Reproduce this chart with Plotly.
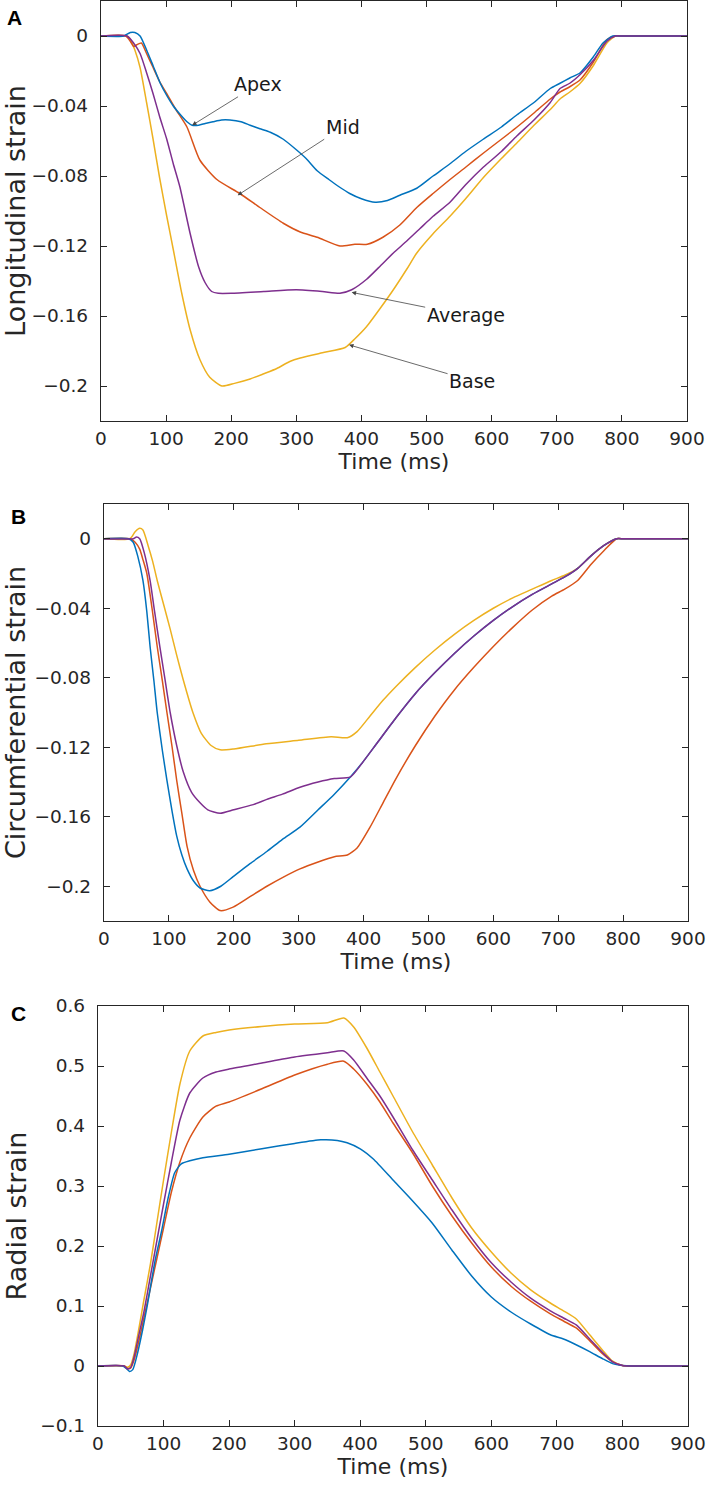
import plotly.graph_objects as go

# ---------------- data ----------------
# Panel A: longitudinal strain
a_apex_t = [0, 35, 45, 52, 60, 70, 80, 91, 101, 111, 122, 132, 140, 150, 160, 172, 185, 198, 215, 229, 244, 260, 280, 300, 315, 332, 350, 365, 382, 400, 421, 440, 459, 485, 510, 536, 560, 587, 615, 639, 665, 690, 705, 720, 736, 756, 771, 786, 800, 820, 900]
a_apex_v = [0, 0, 0.002, 0.002, 0, -0.008, -0.017, -0.027, -0.034, -0.040, -0.045, -0.049, -0.051, -0.051, -0.050, -0.049, -0.048, -0.048, -0.049, -0.051, -0.053, -0.055, -0.059, -0.065, -0.070, -0.077, -0.082, -0.086, -0.090, -0.093, -0.095, -0.094, -0.091, -0.087, -0.080, -0.073, -0.066, -0.059, -0.052, -0.045, -0.038, -0.030, -0.027, -0.024, -0.021, -0.012, -0.004, 0, 0, 0, 0]

a_mid_t = [0, 38, 45, 50, 55, 62, 70, 80, 90, 101, 115, 132, 152, 178, 213, 244, 280, 306, 332, 367, 390, 409, 433, 459, 485, 510, 536, 560, 587, 615, 639, 665, 690, 705, 720, 736, 756, 777, 790, 800, 820, 900]
a_mid_v = [0, 0, -0.003, -0.006, -0.005, -0.004, -0.010, -0.018, -0.026, -0.033, -0.042, -0.052, -0.071, -0.082, -0.090, -0.098, -0.107, -0.112, -0.115, -0.120, -0.119, -0.119, -0.115, -0.108, -0.098, -0.090, -0.082, -0.075, -0.067, -0.059, -0.052, -0.044, -0.036, -0.032, -0.029, -0.025, -0.015, -0.002, 0, 0, 0, 0]

a_avg_t = [0, 40, 50, 60, 70, 80, 90, 101, 111, 121, 137, 150, 160, 170, 180, 200, 250, 300, 340, 367, 385, 408, 430, 449, 470, 490, 510, 536, 560, 587, 615, 639, 665, 690, 705, 720, 736, 756, 777, 790, 800, 820, 900]
a_avg_v = [0, 0, -0.004, -0.010, -0.021, -0.033, -0.046, -0.059, -0.073, -0.086, -0.113, -0.132, -0.141, -0.146, -0.147, -0.147, -0.146, -0.145, -0.146, -0.147, -0.145, -0.139, -0.131, -0.124, -0.117, -0.110, -0.103, -0.095, -0.085, -0.075, -0.066, -0.057, -0.048, -0.038, -0.030, -0.027, -0.022, -0.014, -0.003, 0, 0, 0, 0]

a_base_t = [0, 40, 45, 52, 60, 70, 80, 90, 101, 111, 124, 137, 152, 167, 186, 205, 229, 250, 270, 290, 306, 340, 375, 390, 408, 430, 449, 470, 485, 510, 536, 560, 587, 615, 639, 665, 690, 705, 720, 736, 756, 777, 790, 800, 820, 900]
a_base_v = [0, 0, -0.002, -0.008, -0.018, -0.038, -0.059, -0.081, -0.103, -0.122, -0.147, -0.168, -0.185, -0.195, -0.200, -0.1985, -0.196, -0.193, -0.190, -0.186, -0.184, -0.181, -0.178, -0.173, -0.166, -0.155, -0.145, -0.133, -0.124, -0.113, -0.103, -0.093, -0.081, -0.070, -0.061, -0.051, -0.042, -0.036, -0.032, -0.027, -0.017, -0.004, 0, 0, 0, 0]

# Panel B: circumferential strain
b_apex_t = [0, 38, 45, 52, 60, 66, 71, 77, 82, 90, 97, 105, 112, 120, 128, 138, 148, 163, 180, 199, 225, 251, 275, 302, 330, 355, 380, 400, 420, 450, 480, 510, 540, 570, 600, 630, 660, 690, 710, 730, 750, 770, 790, 800, 820, 900]
b_apex_v = [0, 0, -0.002, -0.010, -0.024, -0.042, -0.062, -0.082, -0.100, -0.122, -0.139, -0.157, -0.171, -0.182, -0.190, -0.197, -0.201, -0.2026, -0.200, -0.1945, -0.187, -0.180, -0.173, -0.166, -0.156, -0.147, -0.137, -0.128, -0.118, -0.103, -0.089, -0.077, -0.066, -0.056, -0.047, -0.039, -0.032, -0.026, -0.022, -0.017, -0.010, -0.004, 0, 0, 0, 0]

b_mid_t = [0, 40, 48, 55, 60, 66, 74, 82, 90, 97, 105, 112, 120, 128, 138, 148, 163, 179, 199, 225, 251, 275, 302, 330, 355, 375, 390, 410, 430, 450, 480, 510, 540, 570, 600, 630, 660, 690, 710, 730, 750, 770, 790, 800, 820, 900]
b_mid_v = [0, 0, -0.002, -0.006, -0.012, -0.020, -0.040, -0.062, -0.082, -0.100, -0.120, -0.139, -0.158, -0.177, -0.191, -0.200, -0.209, -0.214, -0.212, -0.206, -0.200, -0.195, -0.190, -0.186, -0.183, -0.182, -0.178, -0.166, -0.152, -0.138, -0.119, -0.102, -0.087, -0.074, -0.062, -0.051, -0.041, -0.033, -0.029, -0.024, -0.015, -0.007, 0, 0, 0, 0]

b_base_t = [0, 40, 48, 55, 60, 68, 75, 82, 92, 102, 112, 122, 137, 150, 165, 179, 200, 250, 300, 350, 375, 390, 410, 430, 450, 480, 510, 540, 570, 600, 630, 660, 690, 710, 730, 750, 770, 790, 800, 820, 900]
b_base_v = [0, 0, 0.004, 0.006, 0.005, -0.004, -0.013, -0.024, -0.038, -0.052, -0.067, -0.081, -0.100, -0.112, -0.119, -0.1215, -0.121, -0.118, -0.116, -0.114, -0.1145, -0.111, -0.102, -0.093, -0.085, -0.074, -0.064, -0.055, -0.047, -0.040, -0.034, -0.029, -0.024, -0.021, -0.017, -0.010, -0.004, 0, 0, 0, 0]

b_avg_t = [0, 45, 50, 55, 62, 71, 78, 86, 94, 102, 112, 122, 135, 148, 160, 179, 200, 230, 251, 275, 302, 330, 355, 380, 400, 420, 450, 480, 510, 540, 570, 600, 630, 660, 690, 710, 730, 750, 770, 790, 800, 820, 900]
b_avg_v = [0, 0, 0.001, 0.000, -0.008, -0.024, -0.042, -0.062, -0.081, -0.100, -0.119, -0.134, -0.146, -0.152, -0.156, -0.158, -0.156, -0.153, -0.150, -0.147, -0.143, -0.140, -0.138, -0.137, -0.128, -0.118, -0.103, -0.089, -0.077, -0.066, -0.056, -0.047, -0.039, -0.032, -0.026, -0.022, -0.017, -0.010, -0.004, 0, 0, 0, 0]

# Panel C: radial strain
c_t = [0, 40, 45, 50, 55, 62, 70, 80, 90, 100, 112, 125, 140, 160, 180, 200, 250, 300, 350, 375, 390, 410, 430, 450, 480, 510, 540, 570, 600, 630, 660, 690, 710, 730, 750, 770, 785, 800, 815, 900]
c_mid_v = [0, 0, -0.004, -0.003, 0.010, 0.040, 0.080, 0.130, 0.180, 0.230, 0.290, 0.340, 0.380, 0.415, 0.433, 0.440, 0.462, 0.485, 0.503, 0.508, 0.495, 0.470, 0.440, 0.405, 0.355, 0.300, 0.250, 0.205, 0.165, 0.133, 0.108, 0.087, 0.075, 0.063, 0.042, 0.020, 0.007, 0.001, 0, 0]
c_avg_v = [0, 0, -0.005, -0.002, 0.015, 0.050, 0.090, 0.150, 0.210, 0.270, 0.340, 0.410, 0.455, 0.480, 0.490, 0.495, 0.505, 0.515, 0.522, 0.525, 0.510, 0.480, 0.450, 0.415, 0.360, 0.310, 0.260, 0.213, 0.172, 0.140, 0.113, 0.092, 0.080, 0.068, 0.045, 0.022, 0.007, 0.001, 0, 0]
c_base_v = [0, 0, -0.002, 0.002, 0.020, 0.060, 0.110, 0.170, 0.240, 0.310, 0.390, 0.470, 0.525, 0.550, 0.556, 0.560, 0.566, 0.570, 0.572, 0.580, 0.565, 0.530, 0.490, 0.450, 0.390, 0.335, 0.280, 0.230, 0.190, 0.155, 0.127, 0.105, 0.092, 0.078, 0.052, 0.026, 0.008, 0.001, 0, 0]
c_apex_t = [0, 38, 44, 48, 53, 60, 68, 75, 87, 97, 107, 117, 127, 140, 160, 200, 250, 300, 340, 365, 380, 400, 420, 450, 480, 510, 540, 570, 600, 630, 660, 690, 710, 730, 750, 770, 785, 800, 815, 900]
c_apex_v = [0, 0, -0.005, -0.009, -0.006, 0.020, 0.060, 0.100, 0.175, 0.225, 0.280, 0.322, 0.337, 0.342, 0.347, 0.353, 0.362, 0.371, 0.377, 0.376, 0.372, 0.362, 0.345, 0.310, 0.275, 0.238, 0.193, 0.150, 0.115, 0.090, 0.070, 0.052, 0.045, 0.035, 0.024, 0.012, 0.004, 0.001, 0, 0]

x_ticks = [0, 100, 200, 300, 400, 500, 600, 700, 800, 900]
a_yticks = [0, -0.04, -0.08, -0.12, -0.16, -0.2]
a_yticktext = ["0", "\u22120.04", "\u22120.08", "\u22120.12", "\u22120.16", "\u22120.2"]
c_yticks = [0.6, 0.5, 0.4, 0.3, 0.2, 0.1, 0, -0.1]
c_yticktext = ["0.6", "0.5", "0.4", "0.3", "0.2", "0.1", "0", "\u22120.1"]

# ---------------- style ----------------
W, H = 709, 1485
BLUE, ORANGE, YELLOW, PURPLE = "#0072BD", "#D95319", "#EDB120", "#7E2F8E"
AX = "#262626"
FONT = "DejaVu Sans"

def px_x(l, r):
    return [l / W, r / W]

def px_y(top, bot):
    return [1 - bot / H, 1 - top / H]

fig = go.Figure()

def add(t, v, color, ax):
    fig.add_trace(go.Scatter(x=t, y=v, mode="lines", xaxis="x" + ax, yaxis="y" + ax,
                             line=dict(color=color, width=1.5, shape="spline", smoothing=0.6),
                             showlegend=False, hoverinfo="skip"))

# panel A
add(a_base_t, a_base_v, YELLOW, "")
add(a_mid_t, a_mid_v, ORANGE, "")
add(a_apex_t, a_apex_v, BLUE, "")
add(a_avg_t, a_avg_v, PURPLE, "")
# panel B
add(b_base_t, b_base_v, YELLOW, "2")
add(b_mid_t, b_mid_v, ORANGE, "2")
add(b_apex_t, b_apex_v, BLUE, "2")
add(b_avg_t, b_avg_v, PURPLE, "2")
# panel C
add(c_t, c_base_v, YELLOW, "3")
add(c_t, c_mid_v, ORANGE, "3")
add(c_apex_t, c_apex_v, BLUE, "3")
add(c_t, c_avg_v, PURPLE, "3")

common = dict(showline=True, linecolor=AX, linewidth=1.4, mirror="ticks", ticks="inside",
              ticklen=6, tickwidth=1.4, tickcolor=AX, showgrid=False, zeroline=False,
              automargin=False, tickfont=dict(family=FONT, size=18.5, color=AX))

def xax(dom, anchor):
    return dict(common, domain=dom, anchor=anchor, range=[0, 900], tickvals=x_ticks,
                ticklabelstandoff=1,
                title=dict(text="Time (ms)", font=dict(family=FONT, size=22, color=AX), standoff=1))

def yax(dom, anchor, rng, tv, tt, title):
    return dict(common, domain=dom, anchor=anchor, range=rng, tickvals=tv, ticktext=tt,
                ticklabelstandoff=8,
                title=dict(text=title, font=dict(family=FONT, size=27, color=AX), standoff=5))

fig.update_layout(
    template="none",
    width=W, height=H, margin=dict(l=0, r=0, t=0, b=0, pad=0),
    paper_bgcolor="white", plot_bgcolor="white",
    xaxis=xax(px_x(101, 687), "y"),
    yaxis=yax(px_y(1, 421), "x", [-0.22, 0.02], a_yticks, a_yticktext, "Longitudinal strain"),
    xaxis2=xax(px_x(104, 688), "y2"),
    yaxis2=yax(px_y(504, 921), "x2", [-0.22, 0.02], a_yticks, a_yticktext, "Circumferential strain"),
    xaxis3=xax(px_x(98, 688), "y3"),
    yaxis3=yax(px_y(1006, 1426), "x3", [-0.1, 0.6], c_yticks, c_yticktext, "Radial strain"),
)

# curve labels in panel A
labels = [("Apex", 140, -0.051, 66, -41), ("Mid", 210, -0.091, 105, -68),
          ("Average", 385, -0.1465, 114, 23), ("Base", 381, -0.1765, 123, 36)]
for txt, x, y, axp, ayp in labels:
    fig.add_annotation(x=x, y=y, xref="x", yref="y", text=txt, showarrow=True,
                       ax=axp, ay=ayp, arrowhead=2, arrowsize=1.1, arrowwidth=0.8,
                       arrowcolor="#444444", font=dict(family=FONT, size=19, color="#1a1a1a"))

# panel letters
for letter, xp, yp in [("A", 14, 18), ("B", 18, 517), ("C", 18, 1013)]:
    fig.add_annotation(x=xp / W, y=1 - yp / H, xref="paper", yref="paper", text="<b>%s</b>" % letter,
                       showarrow=False, xanchor="center", yanchor="middle",
                       font=dict(family="Liberation Sans", size=21, color="black"))

fig.write_html("out.html", config={"displayModeBar": False},
               post_script="document.body.style.margin='0';document.body.style.overflow='hidden';")
